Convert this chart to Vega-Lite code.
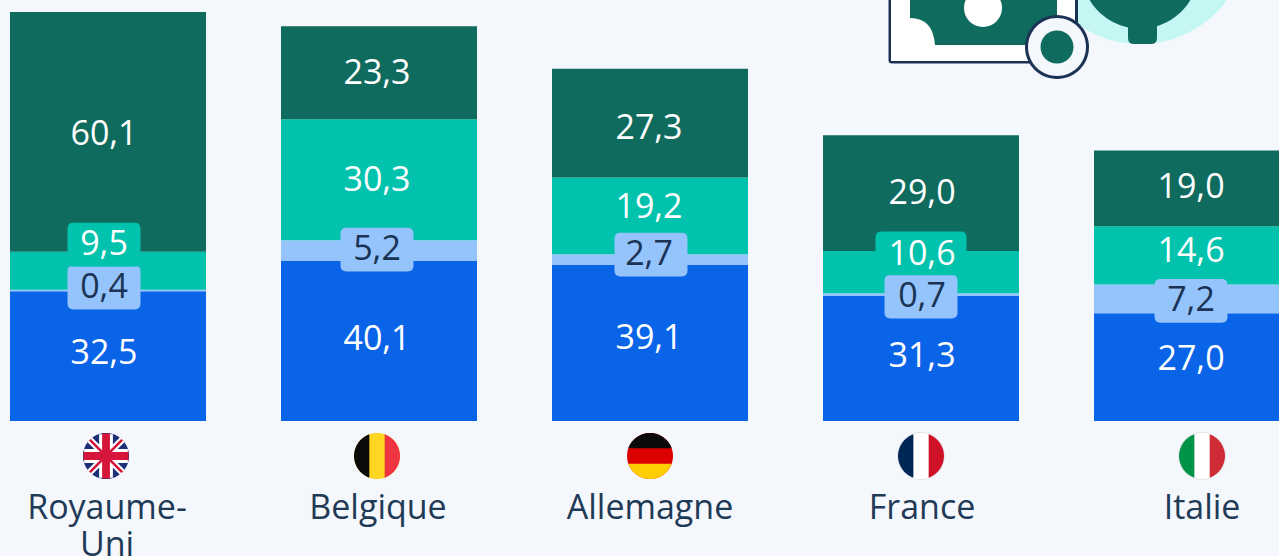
{
"$schema":"https://vega.github.io/schema/vega-lite/v6.json",
"width":1279,"height":556,"padding":0,"autosize":{"type":"none"},
"background":"#f4f7fb",
"config":{"view":{"stroke":null}},
"datasets":{
"shares":[
{"pays":"Royaume-Uni","serie":"Série A","valeur":32.5,"libelle":"32,5"},
{"pays":"Royaume-Uni","serie":"Série B","valeur":0.4,"libelle":"0,4"},
{"pays":"Royaume-Uni","serie":"Série C","valeur":9.5,"libelle":"9,5"},
{"pays":"Royaume-Uni","serie":"Série D","valeur":60.1,"libelle":"60,1"},
{"pays":"Belgique","serie":"Série A","valeur":40.1,"libelle":"40,1"},
{"pays":"Belgique","serie":"Série B","valeur":5.2,"libelle":"5,2"},
{"pays":"Belgique","serie":"Série C","valeur":30.3,"libelle":"30,3"},
{"pays":"Belgique","serie":"Série D","valeur":23.3,"libelle":"23,3"},
{"pays":"Allemagne","serie":"Série A","valeur":39.1,"libelle":"39,1"},
{"pays":"Allemagne","serie":"Série B","valeur":2.7,"libelle":"2,7"},
{"pays":"Allemagne","serie":"Série C","valeur":19.2,"libelle":"19,2"},
{"pays":"Allemagne","serie":"Série D","valeur":27.3,"libelle":"27,3"},
{"pays":"France","serie":"Série A","valeur":31.3,"libelle":"31,3"},
{"pays":"France","serie":"Série B","valeur":0.7,"libelle":"0,7"},
{"pays":"France","serie":"Série C","valeur":10.6,"libelle":"10,6"},
{"pays":"France","serie":"Série D","valeur":29.0,"libelle":"29,0"},
{"pays":"Italie","serie":"Série A","valeur":27.0,"libelle":"27,0"},
{"pays":"Italie","serie":"Série B","valeur":7.2,"libelle":"7,2"},
{"pays":"Italie","serie":"Série C","valeur":14.6,"libelle":"14,6"},
{"pays":"Italie","serie":"Série D","valeur":19.0,"libelle":"19,0"}
],
"noms":[
{"pays":"Royaume-Uni","nom":"Royaume-\nUni"},
{"pays":"Belgique","nom":"Belgique"},
{"pays":"Allemagne","nom":"Allemagne"},
{"pays":"France","nom":"France"},
{"pays":"Italie","nom":"Italie"}
],
"drapeaux":[
{"pays":"Royaume-Uni","forme":"disque","teinte":"bleu uk"},
{"pays":"Royaume-Uni","forme":"diag large","teinte":"blanc"},
{"pays":"Royaume-Uni","forme":"croix large","teinte":"blanc"},
{"pays":"Royaume-Uni","forme":"diag fine","teinte":"rouge uk"},
{"pays":"Royaume-Uni","forme":"croix fine","teinte":"rouge uk"},
{"pays":"Belgique","forme":"disque","teinte":"jaune"},
{"pays":"Belgique","forme":"gauche","teinte":"noir"},
{"pays":"Belgique","forme":"droite","teinte":"rouge be"},
{"pays":"Allemagne","forme":"disque","teinte":"rouge de"},
{"pays":"Allemagne","forme":"haut","teinte":"noir"},
{"pays":"Allemagne","forme":"bas","teinte":"jaune de"},
{"pays":"France","forme":"bord","teinte":"gris"},
{"pays":"France","forme":"disque","teinte":"blanc"},
{"pays":"France","forme":"gauche","teinte":"bleu fr"},
{"pays":"France","forme":"droite","teinte":"rouge fr"},
{"pays":"Italie","forme":"bord","teinte":"gris"},
{"pays":"Italie","forme":"disque","teinte":"blanc"},
{"pays":"Italie","forme":"gauche","teinte":"vert it"},
{"pays":"Italie","forme":"droite","teinte":"rouge it"}
],
"icone":[
{"piece":"halo"},{"piece":"prise"},{"piece":"fiche"},{"piece":"cadre"},{"piece":"fond"},{"piece":"billet"},{"piece":"rond"},{"piece":"anneau"},{"piece":"anneau blanc"},{"piece":"centre"}
]
},
"layer":[
{
"data":{"name":"icone"},
"mark":{"type":"point","filled":true,"opacity":1,"strokeWidth":0,"size":40000},
"encoding":{
"x":{"datum":"France","type":"nominal","scale":{"domain":["Royaume-Uni","Belgique","Allemagne","France","Italie"],"range":[0,1300],"paddingInner":0.2768,"paddingOuter":0.0369},"axis":null},
"y":{"datum":105.5,"type":"quantitative","scale":{"domain":[-33.83,105.5],"range":[556,0],"nice":false,"zero":false},"axis":null},
"shape":{"field":"piece","type":"nominal","legend":null,"scale":{"domain":["halo","prise","fiche","cadre","fond","billet","rond","anneau","anneau blanc","centre"],"range":[
"M1.11,-.64A1.08,1.08 0 1 1 3.27,-.64A1.08,1.08 0 1 1 1.11,-.64Z",
"M1.604,-.3A.586,.586 0 1 1 2.776,-.3A.586,.586 0 1 1 1.604,-.3Z",
"M2.07,.1L2.36,.1L2.36,.38Q2.36,.44 2.3,.44L2.13,.44Q2.07,.44 2.07,.38Z",
"M-.325,-.3L1.57,-.3L1.57,.635L-.29,.635Q-.325,.635 -.325,.6Z",
"M-.3,-.3L1.54,-.3L1.54,.61L-.3,.61Z",
"M-.11,-.3L1.36,-.3L1.36,.45L.14,.45Q.12,.18 -.11,.18Z",
"M.43,.08A.19,.19 0 1 1 .81,.08A.19,.19 0 1 1 .43,.08Z",
"M1.04,.47A.32,.32 0 1 1 1.68,.47A.32,.32 0 1 1 1.04,.47Z",
"M1.07,.47A.29,.29 0 1 1 1.65,.47A.29,.29 0 1 1 1.07,.47Z",
"M1.195,.47A.165,.165 0 1 1 1.525,.47A.165,.165 0 1 1 1.195,.47Z"
]}},
"color":{"field":"piece","type":"nominal","legend":null,"scale":{"domain":["halo","prise","fiche","cadre","fond","billet","rond","anneau","anneau blanc","centre"],"range":["#c4f7f3","#0f6b5e","#0f6b5e","#1a3354","#ffffff","#0f6b5e","#ffffff","#1a3354","#f4f7fb","#0f6b5e"]}}
}
},
{
"data":{"name":"shares"},
"transform":[{"stack":"valeur","groupby":["pays"],"sort":[{"field":"serie","order":"ascending"}],"as":["bas","haut"]}],
"mark":{"type":"bar"},
"encoding":{
"x":{"field":"pays","type":"nominal","sort":null,"axis":null},
"y":{"field":"bas","type":"quantitative","axis":null},
"y2":{"field":"haut"},
"color":{"field":"serie","type":"nominal","legend":null,"scale":{"domain":["Série A","Série B","Série C","Série D"],"range":["#0a64e8","#94c4fb","#00c2ad","#0f6b5e"]}}
}
},
{
"data":{"name":"shares"},
"transform":[
{"stack":"valeur","groupby":["pays"],"sort":[{"field":"serie","order":"ascending"}],"as":["bas","haut"]},
{"calculate":"(datum.bas+datum.haut)/2-{'32,5':-2,'0,4':-3,'9,5':-26,'60,1':3,'40,1':-1,'5,2':-1,'30,3':1,'23,3':1,'39,1':-4,'2,7':-5,'19,2':-8,'27,3':6,'31,3':-2,'0,7':2,'10,6':-17,'29,0':1,'27,0':-7,'7,2':2,'14,6':-3,'19,0':0}[datum.libelle]/3.99","as":"milieu"},
{"calculate":"{'Royaume-Uni':94,'Belgique':96,'Allemagne':99,'France':98,'Italie':97}[datum.pays]","as":"decale"},
{"filter":{"field":"libelle","oneOf":["9,5","0,4","5,2","2,7","10,6","0,7","7,2"]}}
],
"mark":{"type":"point","filled":true,"opacity":1,"strokeWidth":0,"size":5329},
"encoding":{
"x":{"field":"pays","type":"nominal","sort":null,"axis":null},
"xOffset":{"field":"decale","type":"quantitative","scale":null},
"y":{"field":"milieu","type":"quantitative","axis":null},
"shape":{"condition":{"test":"datum.libelle==='10,6'","value":"M-1.083,-.65L1.083,-.65Q1.247,-.65 1.247,-.486L1.247,.386Q1.247,.55 1.083,.55L-1.083,.55Q-1.247,.55 -1.247,.386L-1.247,-.486Q-1.247,-.65 -1.083,-.65Z"},"value":"M-.836,-.6L.836,-.6Q1,-.6 1,-.436L1,.436Q1,.6 .836,.6L-.836,.6Q-1,.6 -1,.436L-1,-.436Q-1,-.6 -.836,-.6Z"},
"color":{"field":"serie","type":"nominal","legend":null,"scale":{"domain":["Série A","Série B","Série C","Série D"],"range":["#0a64e8","#94c4fb","#00c2ad","#0f6b5e"]}}
}
},
{
"data":{"name":"shares"},
"transform":[
{"stack":"valeur","groupby":["pays"],"sort":[{"field":"serie","order":"ascending"}],"as":["bas","haut"]},
{"calculate":"(datum.bas+datum.haut)/2-{'32,5':-2,'0,4':-3,'9,5':-26,'60,1':3,'40,1':-1,'5,2':-1,'30,3':1,'23,3':1,'39,1':-4,'2,7':-5,'19,2':-8,'27,3':6,'31,3':-2,'0,7':2,'10,6':-17,'29,0':1,'27,0':-7,'7,2':2,'14,6':-3,'19,0':0}[datum.libelle]/3.99","as":"milieu"},
{"calculate":"{'Royaume-Uni':94,'Belgique':96,'Allemagne':97,'France':99,'Italie':97}[datum.pays]","as":"decale"}
],
"mark":{"type":"text","font":"Open Sans","fontSize":34,"baseline":"middle","align":"center"},
"encoding":{
"x":{"field":"pays","type":"nominal","sort":null,"axis":null},
"xOffset":{"field":"decale","type":"quantitative","scale":null},
"y":{"field":"milieu","type":"quantitative","axis":null},
"text":{"field":"libelle","type":"nominal"},
"color":{"field":"serie","type":"nominal","legend":null,"scale":{"domain":["Série A","Série B","Série C","Série D"],"range":["#ffffff","#1a3354","#ffffff","#ffffff"]}}
}
},
{
"data":{"name":"drapeaux"},
"transform":[{"calculate":"{'Royaume-Uni':96,'Belgique':96,'Allemagne':98,'France':98,'Italie':108}[datum.pays]","as":"decale"}],
"mark":{"type":"point","filled":true,"opacity":1,"strokeWidth":0,"size":2116},
"encoding":{
"x":{"field":"pays","type":"nominal","sort":null,"axis":null},
"xOffset":{"field":"decale","type":"quantitative","scale":null},
"y":{"datum":-8.77,"type":"quantitative","axis":null},
"shape":{"field":"forme","type":"nominal","legend":null,"scale":{"domain":["bord","disque","gauche","droite","haut","bas","diag large","croix large","diag fine","croix fine"],"range":[
"M-1.04,0A1.04,1.04 0 1 1 1.04,0A1.04,1.04 0 1 1 -1.04,0Z",
"M-1,0A1,1 0 1 1 1,0A1,1 0 1 1 -1,0Z",
"M-.333,-.943A1,1 0 0 0 -.333,.943Z",
"M.333,-.943A1,1 0 0 1 .333,.943Z",
"M-.943,-.333A1,1 0 0 1 .943,-.333Z",
"M-.943,.333A1,1 0 0 0 .943,.333Z",
"M-.61,-.81L.81,.61L.61,.81L-.81,-.61ZM.61,-.81L-.81,.61L-.61,.81L.81,-.61Z",
"M-.3,-.95L.3,-.95L.3,.95L-.3,.95ZM-.95,-.3L.95,-.3L.95,.3L-.95,.3Z",
"M-.74,-.66L-.66,-.74L.74,.66L.66,.74ZM.74,-.66L.66,-.74L-.74,.66L-.66,.74Z",
"M-.17,-.98L.17,-.98L.17,.98L-.17,.98ZM-.98,-.17L.98,-.17L.98,.17L-.98,.17Z"
]}},
"color":{"field":"teinte","type":"nominal","legend":null,"scale":{"domain":["blanc","gris","bleu uk","rouge uk","jaune","noir","rouge be","rouge de","jaune de","bleu fr","rouge fr","vert it","rouge it"],"range":["#ffffff","#e2e4e8","#1c2f78","#d5153a","#fdd522","#0a0a0a","#ef3340","#dd0000","#ffce00","#002654","#ce1126","#009246","#ce2b37"]}}
}
},
{
"data":{"name":"noms"},
"transform":[{"calculate":"{'Royaume-Uni':97,'Belgique':97,'Allemagne':98,'France':99,'Italie':108}[datum.pays]","as":"decale"}],
"mark":{"type":"text","font":"Open Sans","fontSize":34,"align":"center","baseline":"alphabetic","lineBreak":"\n","lineHeight":37,"color":"#1f3a57"},
"encoding":{
"x":{"field":"pays","type":"nominal","sort":null,"axis":null},
"xOffset":{"field":"decale","type":"quantitative","scale":null},
"y":{"datum":-24.55,"type":"quantitative","axis":null},
"text":{"field":"nom","type":"nominal"}
}
}
],
"resolve":{"scale":{"color":"independent","shape":"independent"}}
}
